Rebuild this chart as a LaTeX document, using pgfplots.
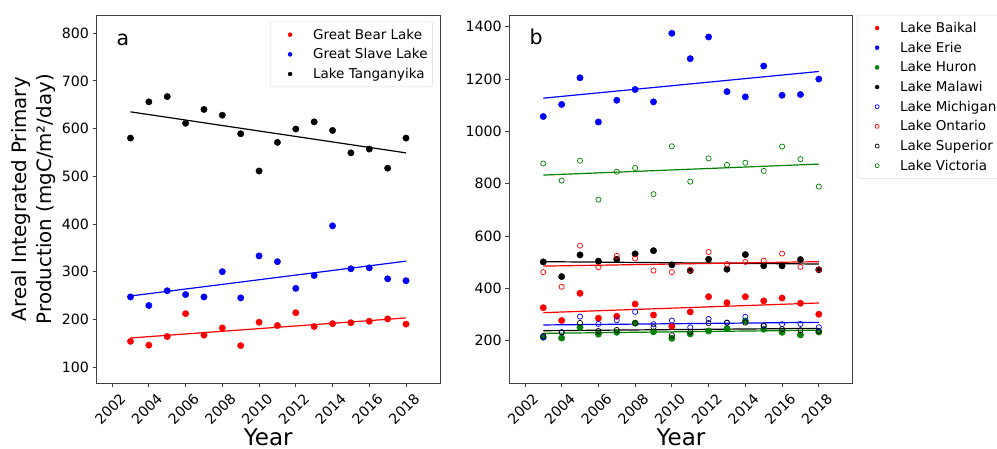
\documentclass[border=0pt]{standalone}
\usepackage{fontspec}
\setmainfont{DejaVu Sans}
\usepackage{pgfplots}
\pgfplotsset{compat=1.18}

\definecolor{mplgreen}{HTML}{008000}

\pgfplotsset{
  lakeax/.style={
    scale only axis, width=343.5pt, height=368.3pt,
    xmin=2001.15, xmax=2019.85,
    xtick={2002,2004,...,2018},
    tick pos=left, tick align=outside, major tick length=4pt,
    axis line style={black!75, line width=0.8pt},
    tick style={black!75, line width=0.8pt},
    /pgf/number format/1000 sep={},
    /pgf/number format/assume math mode=true,
    ticklabel style={font=\fontsize{14.2}{17}\selectfont},
    xticklabel style={xshift=7pt, rotate=45, anchor=north east},
    xlabel={Year},
    xlabel style={font=\fontsize{23}{27}\selectfont, inner sep=0pt,
      at={(axis description cs:0.5,-0.168)}, anchor=base},
    legend cell align=left,
    legend style={draw=black!15, rounded corners=2pt, row sep=3.9pt, inner xsep=3pt, inner ysep=5pt,
      font=\fontsize{13.5}{16}\selectfont},
  },
  limg/.style={legend image code/.code={
      \path[draw=none, fill=none] (0pt,0pt) (38pt,0pt);
      \draw[only marks, mark size=2pt] plot coordinates {(17pt,0pt)};}},
  dot/.style={only marks, mark=*, mark size=3.2pt, color=#1, limg},
  ring/.style={only marks, mark=o, mark size=2.6pt, color=#1, mark options={line width=0.7pt}, limg},
  trend/.style={color=#1, line width=1.2pt, forget plot},
}

\begin{document}
\begin{tikzpicture}
% panel a
\begin{axis}[lakeax, at={(0pt,0pt)}, anchor=south west,
  ymin=66, ymax=838, ytick={100,200,...,800},
  ylabel={Areal Integrated Primary\\Production (mgC/m²/day)},
  ylabel style={align=center, font=\fontsize{19.8}{25}\selectfont,
    at={(axis description cs:-0.108,0.5)}, anchor=south},
  legend style={at={(axis description cs:0.979,0.982)}, anchor=north east}]
  \addplot[dot=red] coordinates {(2003,154)(2004,146)(2005,164)(2006,212)(2007,167)(2008,182)(2009,145)(2010,194)(2011,187)(2012,214)(2013,185)(2014,191)(2015,193)(2016,196)(2017,201)(2018,190)};
  \addlegendentry{Great Bear Lake}
  \addplot[trend=red] coordinates {(2003,161)(2018,203)};
  \addplot[dot=blue] coordinates {(2003,247)(2004,229)(2005,260)(2006,252)(2007,247)(2008,300)(2009,245)(2010,333)(2011,321)(2012,265)(2013,292)(2014,396)(2015,306)(2016,308)(2017,285)(2018,281)};
  \addlegendentry{Great Slave Lake}
  \addplot[trend=blue] coordinates {(2003,249)(2018,322)};
  \addplot[dot=black] coordinates {(2003,580)(2004,656)(2005,667)(2006,611)(2007,640)(2008,628)(2009,589)(2010,511)(2011,571)(2012,599)(2013,614)(2014,596)(2015,549)(2016,557)(2017,517)(2018,580)};
  \addlegendentry{Lake Tanganyika}
  \addplot[trend=black] coordinates {(2003,635)(2018,549)};
  \node[anchor=base west, font=\fontsize{20.5}{24}\selectfont] at (rel axis cs:0.048,0.917) {a};
\end{axis}
% panel b
\begin{axis}[lakeax, at={(412.8pt,0pt)}, anchor=south west,
  ymin=37, ymax=1445, ytick={200,400,...,1400},
  legend style={at={(axis description cs:1.012,1.0)}, anchor=north west}]
  \addplot[dot=red] coordinates {(2003,326)(2004,277)(2005,381)(2006,286)(2007,293)(2008,340)(2009,298)(2010,255)(2011,310)(2012,368)(2013,345)(2014,368)(2015,352)(2016,363)(2017,343)(2018,301)};
  \addlegendentry{Lake Baikal}
  \addplot[trend=red] coordinates {(2003,307)(2018,344)};
  \addplot[dot=blue] coordinates {(2003,1057)(2004,1103)(2005,1205)(2006,1036)(2007,1119)(2008,1160)(2009,1113)(2010,1375)(2011,1278)(2012,1361)(2013,1152)(2014,1132)(2015,1250)(2016,1138)(2017,1141)(2018,1200)};
  \addlegendentry{Lake Erie}
  \addplot[trend=blue] coordinates {(2003,1127)(2018,1229)};
  \addplot[dot=mplgreen] coordinates {(2003,213)(2004,210)(2005,251)(2006,225)(2007,232)(2008,267)(2009,234)(2010,209)(2011,226)(2012,237)(2013,246)(2014,275)(2015,244)(2016,232)(2017,222)(2018,233)};
  \addlegendentry{Lake Huron}
  \addplot[trend=mplgreen] coordinates {(2003,228)(2018,240)};
  \addplot[dot=black] coordinates {(2003,501)(2004,445)(2005,528)(2006,504)(2007,511)(2008,532)(2009,544)(2010,490)(2011,468)(2012,511)(2013,473)(2014,529)(2015,486)(2016,486)(2017,510)(2018,471)};
  \addlegendentry{Lake Malawi}
  \addplot[trend=black] coordinates {(2003,502)(2018,493)};
  \addplot[ring=blue] coordinates {(2003,213)(2004,232)(2005,292)(2006,264)(2007,278)(2008,310)(2009,263)(2010,277)(2011,251)(2012,283)(2013,268)(2014,291)(2015,259)(2016,263)(2017,264)(2018,251)};
  \addlegendentry{Lake Michigan}
  \addplot[trend=blue] coordinates {(2003,260)(2018,270)};
  \addplot[ring=red] coordinates {(2003,462)(2004,406)(2005,563)(2006,481)(2007,524)(2008,514)(2009,468)(2010,462)(2011,470)(2012,539)(2013,493)(2014,501)(2015,506)(2016,533)(2017,482)(2018,472)};
  \addlegendentry{Lake Ontario}
  \addplot[trend=red] coordinates {(2003,485)(2018,502)};
  \addplot[ring=black] coordinates {(2003,218)(2004,232)(2005,268)(2006,237)(2007,241)(2008,267)(2009,251)(2010,221)(2011,234)(2012,267)(2013,269)(2014,269)(2015,256)(2016,244)(2017,240)(2018,237)};
  \addlegendentry{Lake Superior}
  \addplot[trend=black] coordinates {(2003,238)(2018,247)};
  \addplot[ring=mplgreen] coordinates {(2003,877)(2004,812)(2005,888)(2006,739)(2007,846)(2008,860)(2009,760)(2010,943)(2011,808)(2012,897)(2013,872)(2014,880)(2015,849)(2016,942)(2017,894)(2018,789)};
  \addlegendentry{Lake Victoria}
  \addplot[trend=mplgreen] coordinates {(2003,833)(2018,875)};
  \node[anchor=base west, font=\fontsize{20.5}{24}\selectfont] at (rel axis cs:0.049,0.92) {b};
\end{axis}
\pgfresetboundingbox
\path (-96.5pt,-65.7pt) rectangle (900.5pt,383.3pt);
\end{tikzpicture}
\end{document}
